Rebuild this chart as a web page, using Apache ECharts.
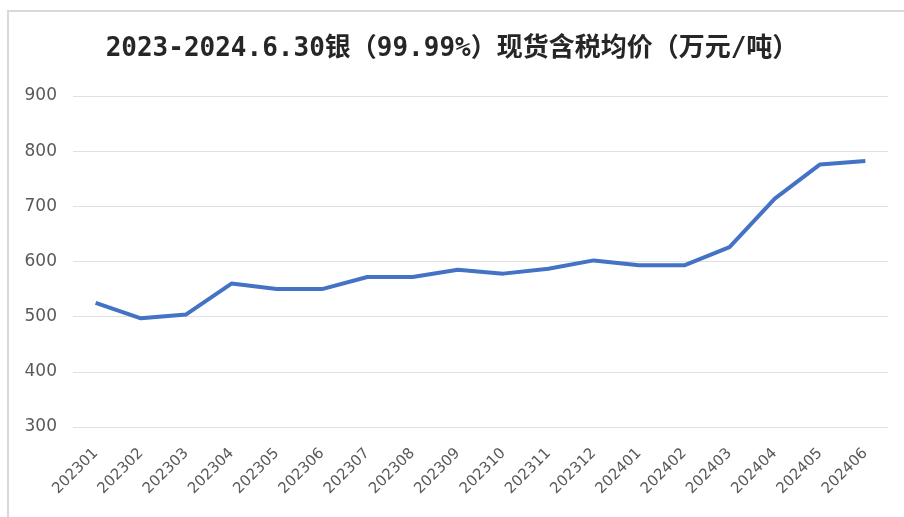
<!DOCTYPE html>
<html>
<head>
    <meta charset="UTF-8">
    <title>银现货含税均价</title>
    <script src="https://cdn.jsdelivr.net/npm/echarts@6/dist/echarts.min.js"></script>
    <style>
        html, body { margin: 0; padding: 0; background: #fff; overflow: hidden; }
        #frame { position: absolute; left: 7px; top: 10px; width: 897px; height: 507px;
                 border-left: 2px solid #d9d9d9; border-top: 2px solid #d9d9d9; box-sizing: border-box; }
        #main { position: absolute; left: 0; top: 0; width: 904px; height: 517px; }
    </style>
</head>
<body>
<div id="frame"></div>
<div id="main"></div>

<script type="text/javascript">
    // 月份
    var months = ['202301', '202302', '202303', '202304', '202305', '202306',
        '202307', '202308', '202309', '202310', '202311', '202312',
        '202401', '202402', '202403', '202404', '202405', '202406'];
    // 含税均价（万元/吨）
    var prices = [525, 497, 504, 560, 550, 550, 572, 572, 585, 578, 587, 602,
        593, 593, 626, 714, 776, 782];
    var yTicks = [300, 400, 500, 600, 700, 800, 900];

    var echart = echarts.init(document.getElementById('main'));

    var option = {
        title: {
            text: '2023-2024.6.30银（99.99%）现货含税均价（万元/吨）',
            left: 'center',
            top: 31,
            textStyle: {
                fontFamily: '"DejaVu Sans Mono", "Noto Sans CJK SC"',
                fontWeight: 'bold',
                fontSize: 26,
                color: '#262626'
            }
        },
        grid: {
            left: 73,
            right: 16,
            top: 96,
            bottom: 90
        },
        xAxis: {
            type: 'category',
            data: months,
            axisLine: { show: false },
            axisTick: { show: false },
            axisLabel: {
                rotate: 45,
                margin: 24,
                fontSize: 15,
                color: '#595959',
                fontFamily: 'DejaVu Sans'
            }
        },
        yAxis: {
            type: 'value',
            min: yTicks[0],
            max: yTicks[yTicks.length - 1],
            interval: 100,
            axisLine: { show: false },
            axisTick: { show: false },
            axisLabel: {
                margin: 16,
                fontSize: 17,
                color: '#595959',
                fontFamily: 'DejaVu Sans'
            },
            splitLine: { lineStyle: { color: '#e0e0e0', width: 1 } }
        },
        series: [{
            type: 'line',
            data: prices,
            symbol: 'none',
            lineStyle: { color: '#4472c4', width: 4 }
        }]
    };

    echart.setOption(option);
</script>
</body>
</html>
